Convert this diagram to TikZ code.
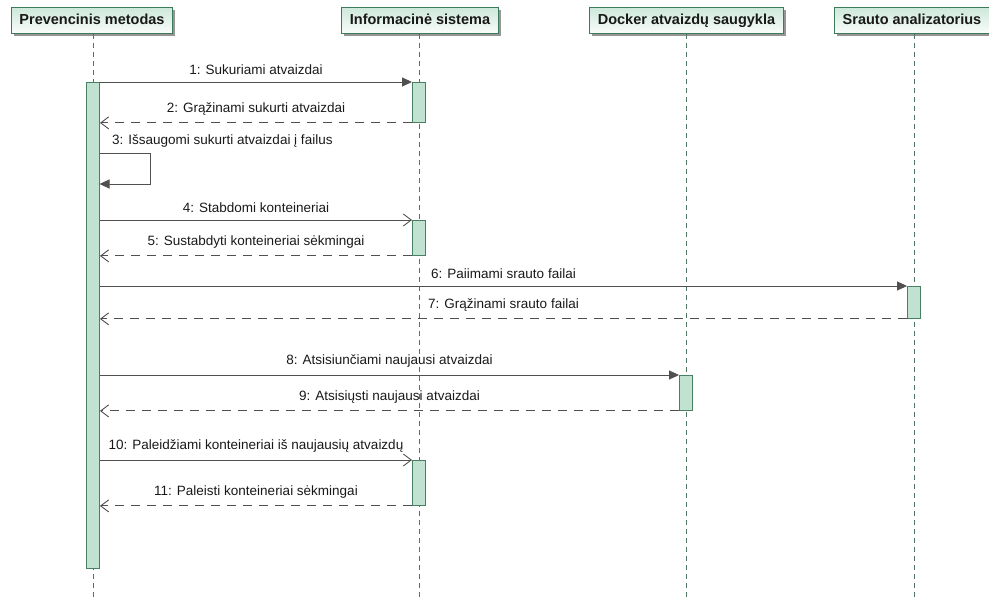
\documentclass[tikz,border=0pt]{standalone}
\usepackage{fontspec}
\setmainfont{Liberation Sans}
\usetikzlibrary{arrows.meta,shadows}

\definecolor{boxedge}{RGB}{61,122,92}
\definecolor{boxtop}{RGB}{205,232,218}
\definecolor{boxbot}{RGB}{250,253,251}
\definecolor{barfill}{RGB}{194,226,209}
\definecolor{baredge}{RGB}{72,128,100}
\definecolor{lifeclr}{RGB}{80,118,98}
\definecolor{msgclr}{RGB}{80,80,80}
\definecolor{shadowclr}{RGB}{150,150,150}

\tikzset{
  head/.style={draw=boxedge, line width=0.9pt, top color=boxtop, bottom color=boxbot,
    minimum height=26pt, inner xsep=8pt, inner ysep=0pt,
    text height=10.5pt, text depth=3pt,
    font=\fontsize{14.5}{17}\selectfont\bfseries, text=black!90,
    drop shadow={shadow xshift=2.5pt, shadow yshift=-2.5pt, fill=shadowclr, opacity=1}},
  lifeline/.style={draw=lifeclr, line width=0.8pt, dash pattern=on 5pt off 4pt},
  actbar/.style={draw=baredge, line width=0.9pt, fill=barfill, minimum width=13pt,
    inner sep=0pt, anchor=north},
  call/.style={draw=msgclr, line width=0.9pt,
    -{Triangle[length=10pt,width=9pt,fill=msgclr]}},
  async/.style={draw=msgclr, line width=0.9pt, -{Straight Barb[length=8pt,width=12pt]}},
  reply/.style={draw=msgclr, line width=0.9pt, dash pattern=on 9pt off 7pt,
    -{Straight Barb[length=8pt,width=12pt]}},
  lbl/.style={font=\fontsize{13.5}{16}\selectfont, text=black!90, anchor=base, inner sep=0pt}
}

\begin{document}
\begin{tikzpicture}[x=1pt, y=-1pt]
  \useasboundingbox (0,0) rectangle (989,599);

  % participants
  \node[head] (hp) at (92,20.5) {Prevencinis metodas};
  \node[head] (hi) at (420,20.5) {Informacinė sistema};
  \node[head] (hd) at (686.5,20.5) {Docker atvaizdų saugykla};
  \node[head] (hs) at (912,20.5) {Srauto analizatorius};

  % lifeline ends
  \coordinate (ep) at (93,599);
  \coordinate (ei) at (419,599);
  \coordinate (ed) at (686,599);
  \coordinate (es) at (914,599);

  \draw[lifeline] (hp.south -| ep) -- (ep);
  \draw[lifeline] (hi.south -| ei) -- (ei);
  \draw[lifeline] (hd.south -| ed) -- (ed);
  \draw[lifeline] (hs.south -| es) -- (es);

  % activation bars
  \node[actbar, minimum height=486pt] (pb) at (93,82) {};
  \node[actbar, minimum height=40pt] (ib1) at (419,82) {};
  \node[actbar, minimum height=35pt] (ib2) at (419,220) {};
  \node[actbar, minimum height=32pt] (sb) at (914,286) {};
  \node[actbar, minimum height=35pt] (db) at (686,375) {};
  \node[actbar, minimum height=45pt] (ib3) at (419,460) {};

  % 1, 2
  \draw[call] (ib1.north west -| pb.east) -- (ib1.north west)
    node[lbl, midway, above=7pt] {1:  Sukuriami atvaizdai};
  \draw[reply] (ib1.south west) -- (ib1.south west -| pb.east)
    node[lbl, midway, above=7pt] {2:  Grąžinami sukurti atvaizdai};

  % 3: self call
  \coordinate (s3a) at (99.5,153);
  \coordinate (s3b) at (150,153);
  \coordinate (s3c) at (150,184);
  \coordinate (s3d) at (99.5,184);
  \draw[call] (s3a) -- (s3b) -- (s3c) -- (s3d);
  \node[lbl, anchor=base west] (l3) at (112,145) {3:  Išsaugomi sukurti atvaizdai į failus};

  % 4, 5
  \draw[async] (ib2.north west -| pb.east) -- (ib2.north west)
    node[lbl, midway, above=7pt] {4:  Stabdomi konteineriai};
  \draw[reply] (ib2.south west) -- (ib2.south west -| pb.east)
    node[lbl, midway, above=7pt] {5:  Sustabdyti konteineriai sėkmingai};

  % 6, 7
  \draw[call] (sb.north west -| pb.east) -- (sb.north west)
    node[lbl, midway, above=7pt] {6:  Paiimami srauto failai};
  \draw[reply] (sb.south west) -- (sb.south west -| pb.east)
    node[lbl, midway, above=7pt] {7:  Grąžinami srauto failai};

  % 8, 9
  \draw[call] (db.north west -| pb.east) -- (db.north west)
    node[lbl, midway, above=7pt] {8:  Atsisiunčiami naujausi atvaizdai};
  \draw[reply] (db.south west) -- (db.south west -| pb.east)
    node[lbl, midway, above=7pt] {9:  Atsisiųsti naujausi atvaizdai};

  % 10, 11
  \draw[async] (ib3.north west -| pb.east) -- (ib3.north west)
    node[lbl, midway, above=7pt] {10:  Paleidžiami konteineriai iš naujausių atvaizdų};
  \draw[reply] (ib3.south west) -- (ib3.south west -| pb.east)
    node[lbl, midway, above=7pt] {11:  Paleisti konteineriai sėkmingai};
\end{tikzpicture}
\end{document}
